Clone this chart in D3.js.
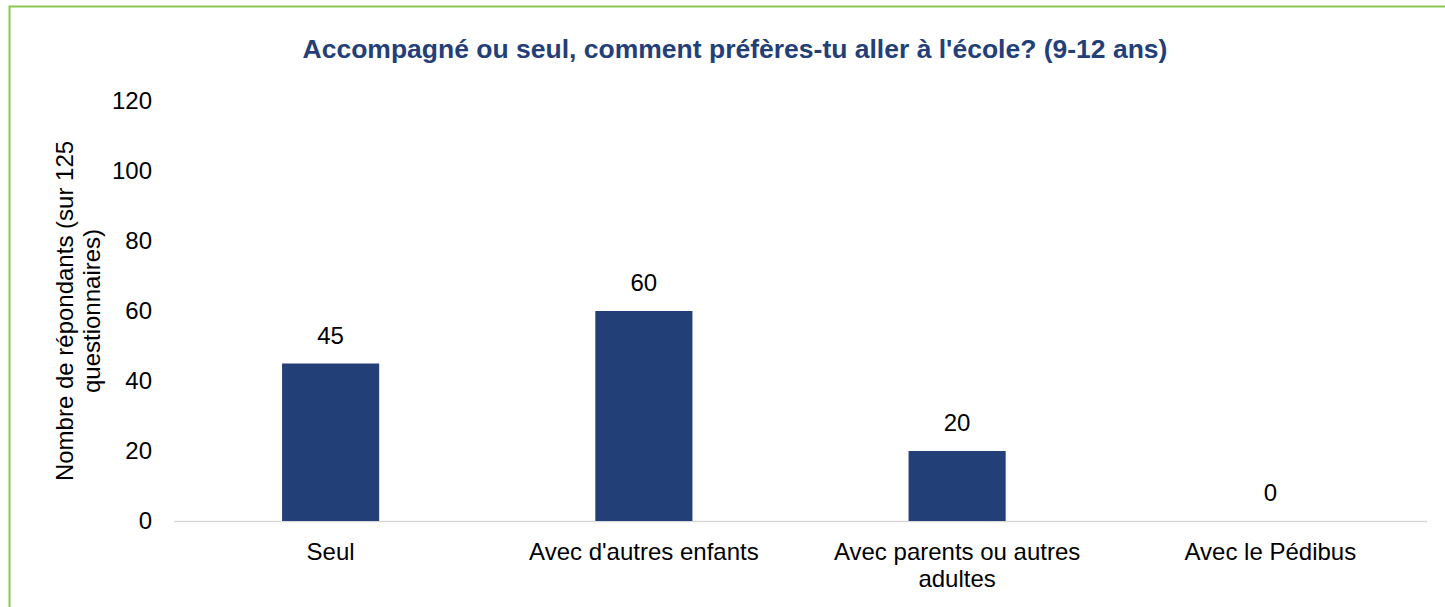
<!DOCTYPE html>
<html>
<head>
<meta charset="utf-8">
<script src="https://cdn.jsdelivr.net/npm/d3@7"></script>
<style>
  body { margin: 0; background: #fff; }
  svg { display: block; font-family: "Liberation Sans", Arial, sans-serif; }
</style>
</head>
<body>
<div id="chart"></div>
<script>
// chart data
const categories = ["Seul", "Avec d'autres enfants", "Avec parents ou autres adultes", "Avec le Pédibus"];
const values = [45, 60, 20, 0];
const yTicks = [0, 20, 40, 60, 80, 100, 120];
const title = "Accompagné ou seul, comment préfères-tu aller à l'école? (9-12 ans)";
const yLabel = ["Nombre de répondants (sur 125", "questionnaires)"];

const width = 1445, height = 607;
const margin = {top: 101, right: 18, bottom: 86, left: 174};
const fs = 24;

const svg = d3.select("#chart").append("svg")
    .attr("width", width)
    .attr("height", height);

// green frame around the chart area
svg.append("rect")
    .attr("x", 9.5)
    .attr("y", 6.5)
    .attr("width", width + 20)
    .attr("height", height + 20)
    .attr("fill", "none")
    .attr("stroke", "#8dc753")
    .attr("stroke-width", 2);

const x = d3.scaleBand()
    .domain(categories)
    .range([margin.left, width - margin.right])
    .paddingInner(0.69)
    .paddingOuter(0.345);

const y = d3.scaleLinear()
    .domain([0, 120])
    .range([height - margin.bottom, margin.top]);

svg.append("text")
    .attr("x", 735)
    .attr("y", 58)
    .attr("text-anchor", "middle")
    .attr("font-size", 26.5)
    .attr("font-weight", "bold")
    .attr("fill", "#243f78")
    .text(title);

// y axis labels, no line
const yAxis = svg.append("g")
    .attr("transform", `translate(${margin.left},0)`)
    .call(d3.axisLeft(y).tickValues(yTicks).tickSize(0).tickPadding(22));
yAxis.select(".domain").remove();
yAxis.selectAll("text")
    .attr("font-size", fs)
    .attr("font-family", "Liberation Sans, Arial, sans-serif")
    .attr("fill", "#000");

// baseline
svg.append("line")
    .attr("x1", margin.left)
    .attr("x2", width - margin.right)
    .attr("y1", y(0) + 0.5)
    .attr("y2", y(0) + 0.5)
    .attr("stroke", "#d9d9d9")
    .attr("stroke-width", 1.5);

svg.selectAll("rect.bar")
    .data(values)
    .join("rect")
    .attr("class", "bar")
    .attr("x", (d, i) => x(categories[i]))
    .attr("y", d => y(d))
    .attr("width", x.bandwidth())
    .attr("height", d => y(0) - y(d))
    .attr("fill", "#233f78");

svg.selectAll("text.val")
    .data(values)
    .join("text")
    .attr("class", "val")
    .attr("x", (d, i) => x(categories[i]) + x.bandwidth() / 2)
    .attr("y", d => y(d) - 20)
    .attr("text-anchor", "middle")
    .attr("font-size", fs)
    .attr("fill", "#000")
    .text(d => d);

// category labels, wrapped like the original
const wrapped = {
    "Avec parents ou autres adultes": ["Avec parents ou autres", "adultes"]
};
const xl = svg.selectAll("text.cat")
    .data(categories)
    .join("text")
    .attr("class", "cat")
    .attr("x", d => x(d) + x.bandwidth() / 2)
    .attr("y", y(0) + 39)
    .attr("text-anchor", "middle")
    .attr("font-size", fs)
    .attr("fill", "#000");
xl.each(function(d) {
    const lines = wrapped[d] || [d];
    d3.select(this).selectAll("tspan")
        .data(lines)
        .join("tspan")
        .attr("x", x(d) + x.bandwidth() / 2)
        .attr("dy", (l, i) => i == 0 ? 0 : 27)
        .text(l => l);
});

svg.append("text")
    .attr("transform", "translate(73,311) rotate(-90)")
    .attr("text-anchor", "middle")
    .attr("font-size", fs)
    .attr("fill", "#000")
    .selectAll("tspan")
    .data(yLabel)
    .join("tspan")
    .attr("x", 0)
    .attr("dy", (l, i) => i == 0 ? 0 : 27)
    .text(l => l);
</script>
</body>
</html>
